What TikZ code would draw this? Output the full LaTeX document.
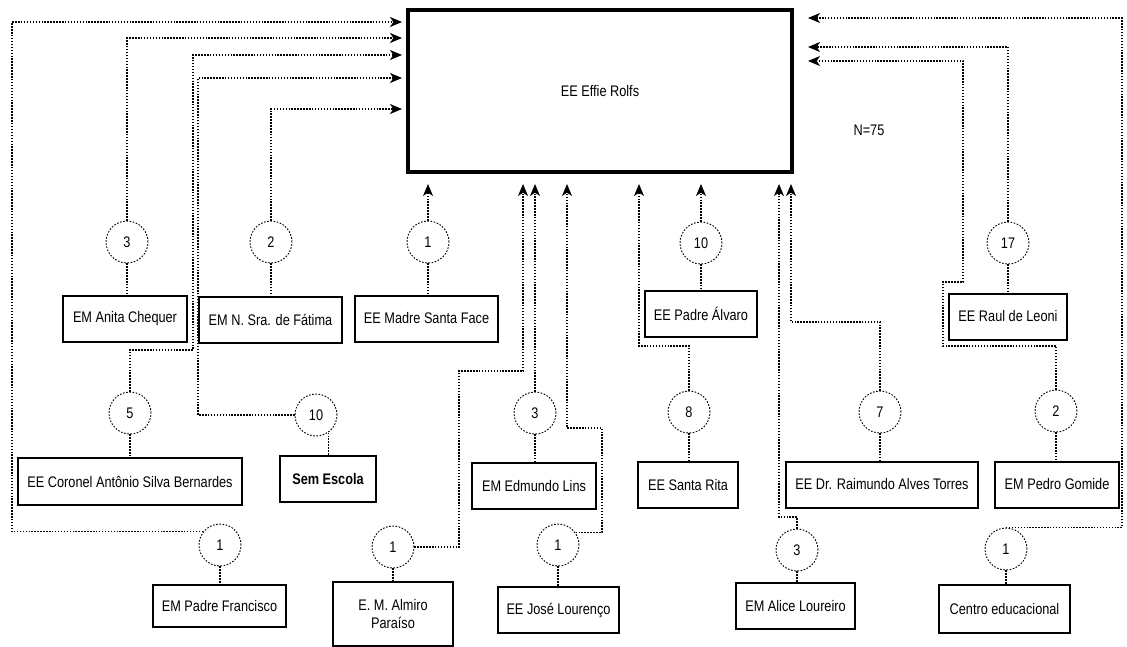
\documentclass[tikz,border=0pt]{standalone}
\usepackage{fontspec}
\setmainfont{Liberation Sans}[FakeStretch=0.83]
\usetikzlibrary{arrows.meta}
\begin{document}
\begin{tikzpicture}[x=0.75pt,y=-0.75pt,
  font=\fontsize{11.5}{13.5}\selectfont,
  box/.style={draw, line width=1.5pt, minimum height=34.5pt, inner sep=0pt, align=center},
  mainbox/.style={draw, line width=3.2pt, minimum width=288pt, minimum height=121.5pt, inner sep=0pt},
  num/.style={circle, draw, dash pattern=on 1.2pt off 1.2pt, line width=0.7pt, minimum size=31.5pt, inner sep=0pt},
  conn/.style={draw, dash pattern=on 1.1pt off 1.1pt, line width=0.8pt},
  arr/.style={conn, -{Stealth[length=9pt,width=7.5pt,inset=2.5pt]}},
]
\useasboundingbox (0,0) rectangle (1127,646);

% main box
\node[mainbox] (main) at (600,91) {EE Effie Rolfs};
\node (n) at (869,130) {N=75};

% boxes
\node[box, minimum width=93pt] (anita) at (125,319) {EM Anita Chequer};
\node[box, minimum width=107.25pt] (fatima) at (270.5,320) {EM N. Sra. de Fátima};
\node[box, minimum width=107.25pt] (madre) at (426.5,318.5) {EE Madre Santa Face};
\node[box, minimum width=84pt] (alvaro) at (701,314) {EE Padre Álvaro};
\node[box, minimum width=88.5pt] (raul) at (1008,316.5) {EE Raul de Leoni};
\node[box, minimum width=168pt, minimum height=35.25pt] (coronel) at (130,481.5) {EE Coronel Antônio Silva Bernardes};
\node[box, minimum width=72pt, font=\fontsize{11.5}{13.5}\selectfont\bfseries] (sem) at (328,479) {Sem Escola};
\node[box, minimum width=93pt] (edmundo) at (534,486) {EM Edmundo Lins};
\node[box, minimum width=75pt] (rita) at (688,485) {EE Santa Rita};
\node[box, minimum width=144pt] (raimundo) at (882,484.5) {EE Dr. Raimundo Alves Torres};
\node[box, minimum width=93pt] (pedro) at (1057,484.5) {EM Pedro Gomide};
\node[box, minimum width=99.75pt, minimum height=31.5pt] (francisco) at (219.5,606) {EM Padre Francisco};
\node[box, minimum width=90pt, minimum height=48pt] (almiro) at (393,614) {E. M. Almiro\\Paraíso};
\node[box, minimum width=90.75pt] (jose) at (558.5,610) {EE José Lourenço};
\node[box, minimum width=89.25pt] (alice) at (795.5,606) {EM Alice Loureiro};
\node[box, minimum width=98.25pt, minimum height=36pt] (centro) at (1004.5,609) {Centro educacional};

% circles
\node[num] (c3a) at (127,242) {3};
\node[num] (c2f) at (271,242) {2};
\node[num] (c1m) at (428,242) {1};
\node[num] (c10a) at (701,243) {10};
\node[num] (c17) at (1008,243) {17};
\node[num] (c5) at (130,413) {5};
\node[num] (c10s) at (316,415) {10};
\node[num] (c3e) at (535,413) {3};
\node[num] (c8) at (689,412) {8};
\node[num] (c7) at (880,412) {7};
\node[num] (c2p) at (1056,411) {2};
\node[num] (c1f) at (220,545) {1};
\node[num] (c1al) at (393,547) {1};
\node[num] (c1j) at (558,545) {1};
\node[num] (c3al) at (797,550) {3};
\node[num] (c1c) at (1006,549) {1};

% arrow tips
\coordinate (tL1) at (402,22);
\coordinate (tL2) at (402,38);
\coordinate (tL3) at (402,55);
\coordinate (tL4) at (402,78);
\coordinate (tL5) at (402,109);
\coordinate (tB1) at (428,184);
\coordinate (tB2) at (523,184);
\coordinate (tB3) at (535,184);
\coordinate (tB4) at (567,184);
\coordinate (tB5) at (639,184);
\coordinate (tB6) at (701,184);
\coordinate (tB7) at (779,184);
\coordinate (tB8) at (791,184);
\coordinate (tR1) at (808,18);
\coordinate (tR2) at (808,47);
\coordinate (tR3) at (808,61);

% circle to box
\draw[conn] (c3a.south) -- (c3a.south |- anita.north);
\draw[conn] (c2f.south) -- (c2f.south |- fatima.north);
\draw[conn] (c1m.south) -- (c1m.south |- madre.north);
\draw[conn] (c10a.south) -- (c10a.south |- alvaro.north);
\draw[conn] (c17.south) -- (c17.south |- raul.north);
\draw[conn] (c5.south) -- (c5.south |- coronel.north);
\draw[conn] (c10s.-55) -- (c10s.-55 |- sem.north);
\draw[conn] (c3e.south) -- (c3e.south |- edmundo.north);
\draw[conn] (c8.south) -- (c8.south |- rita.north);
\draw[conn] (c7.south) -- (c7.south |- raimundo.north);
\draw[conn] (c2p.south) -- (c2p.south |- pedro.north);
\draw[conn] (c1f.south) -- (c1f.south |- francisco.north);
\draw[conn] (c1al.south) -- (c1al.south |- almiro.north);
\draw[conn] (c1j.south) -- (c1j.south |- jose.north);
\draw[conn] (c3al.south) -- (c3al.south |- alice.north);
\draw[conn] (c1c.south) -- (c1c.south |- centro.north);

% connectors to main
\draw[arr] (c1f.142) -| (12,22) -- (tL1);
\draw[arr] (c3a.north) |- (tL2);
\draw[arr] (c5.north) |- (193,350) |- (tL3);
\draw[arr] (c10s.west) -| (198,78) -- (tL4);
\draw[arr] (c2f.north) |- (tL5);
\draw[arr] (c1m.north) -- (tB1);
\draw[arr] (c1al.east) -| (459,371) -| (tB2);
\draw[arr] (c3e.north) -- (tB3);
\draw[arr] (c1j.35) -| (602,428) -| (tB4);
\draw[arr] (c8.north) |- (639,346) -- (tB5);
\draw[arr] (c10a.north) -- (tB6);
\draw[arr] (c3al.north) |- (779,517) -- (tB7);
\draw[arr] (c7.north) |- (791,322) -- (tB8);
\draw[arr] (c17.north) |- (tR2);
\draw[arr] (c2p.north) |- (943,346) |- (963,282) |- (tR3);
\draw[arr] (c1c.north) -| (1122,18) -- (tR1);
\end{tikzpicture}
\end{document}
